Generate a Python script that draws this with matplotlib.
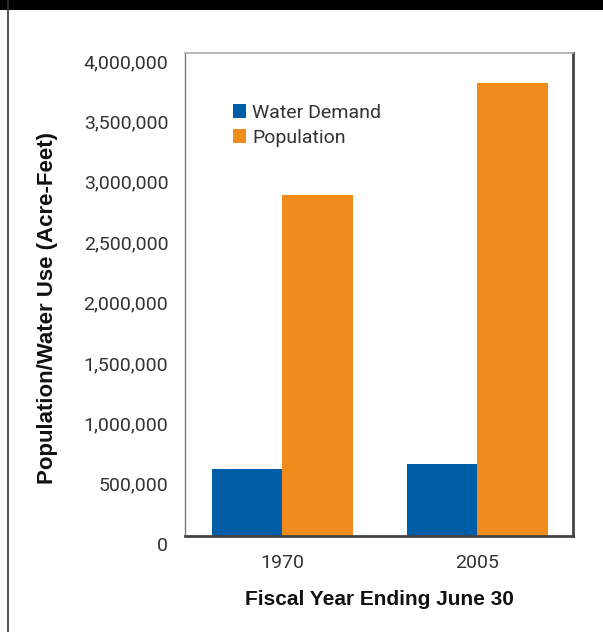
import matplotlib.pyplot as plt
import matplotlib.transforms as mtransforms
from matplotlib.patches import Rectangle
from matplotlib.lines import Line2D
from matplotlib.ticker import FuncFormatter
import numpy as np

years = ['1970', '2005']
water_demand = [555000, 596000]
population = [2824000, 3752000]
series_names = ['Water Demand', 'Population']
colors = ['#005ea8', '#f08c1e']

W, H = 603, 632
fig = plt.figure(figsize=(W / 100, H / 100), dpi=100)

# black band on top and thin rule down the left side
fig.patches.append(Rectangle((0, 1 - 10 / H), 1, 10 / H, transform=fig.transFigure,
                             facecolor='black', edgecolor='none'))
fig.lines.append(Line2D([7.5 / W, 7.5 / W], [0, 1], transform=fig.transFigure,
                        color='#333333', linewidth=1.2))

ax = fig.add_axes([185 / W, (H - 536) / H, 388 / W, 483 / H])

x = np.arange(len(years))
width = 0.36
ax.bar(x - width / 2, water_demand, width, color=colors[0], label=series_names[0])
ax.bar(x + width / 2, population, width, color=colors[1], label=series_names[1])

ax.set_xlim(-0.5, 1.49)
ax.set_ylim(0, 4000000)
ax.set_yticks(np.arange(0, 4000001, 500000))
ax.yaxis.set_major_formatter(FuncFormatter(lambda v, p: f'{int(v):,}'))
ax.set_xticks(x)
ax.set_xticklabels(years)

ax.tick_params(axis='both', length=0)
ax.tick_params(axis='y', pad=12)
ax.tick_params(axis='x', pad=13)
for lab in ax.get_yticklabels() + ax.get_xticklabels():
    lab.set_fontfamily('Roboto')
    lab.set_fontsize(14)
    lab.set_color('#333333')
# y labels sit a bit below their values in the original
offset = mtransforms.ScaledTranslation(0, -8 / 100, fig.dpi_scale_trans)
for lab in ax.get_yticklabels():
    lab.set_transform(lab.get_transform() + offset)

ax.spines['top'].set_color('#aaaaaa')
ax.spines['left'].set_color('#777777')
ax.spines['right'].set_color('#444444')
ax.spines['bottom'].set_color('#444444')
ax.spines['top'].set_linewidth(1.2)
ax.spines['left'].set_linewidth(1.0)
ax.spines['right'].set_linewidth(2.0)
ax.spines['bottom'].set_linewidth(2.0)

ax.set_xlabel('Fiscal Year Ending June 30', family='Liberation Sans', weight='bold',
              size=15, color='#111111', labelpad=13)
ax.set_ylabel('Population/Water Use (Acre-Feet)', family='Liberation Sans', weight='bold',
              size=16, color='#111111')
ax.yaxis.set_label_coords(58 / W, (H - 308) / H, transform=fig.transFigure)

leg = ax.legend(loc='upper left', bbox_to_anchor=(40 / 388, 1 - 43 / 483), frameon=False,
                prop=dict(family='Roboto', size=14), handlelength=0.7,
                handleheight=0.7, handletextpad=0.3, labelspacing=0.35, borderaxespad=0)
for t in leg.get_texts():
    t.set_color('#333333')

fig.savefig('out.png', dpi=100)
